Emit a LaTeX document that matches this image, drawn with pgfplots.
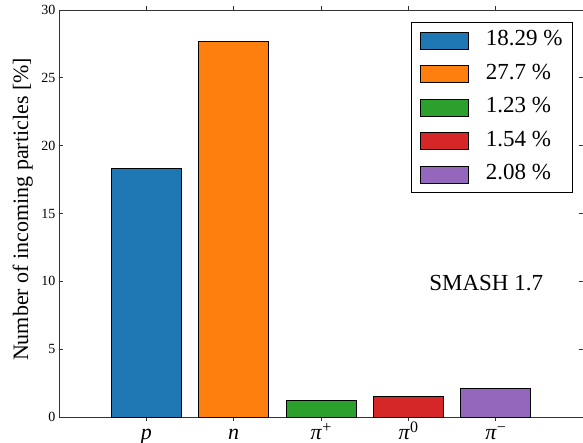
\documentclass[border=0pt]{standalone}
\usepackage{fontspec}
\setmainfont{Liberation Serif}
\usepackage{pgfplots}
\pgfplotsset{compat=1.18}
\definecolor{c1}{HTML}{1F77B4}
\definecolor{c2}{HTML}{FF7F0E}
\definecolor{c3}{HTML}{2CA02C}
\definecolor{c4}{HTML}{D62728}
\definecolor{c5}{HTML}{9467BD}
\begin{document}
\begin{tikzpicture}
\begin{axis}[
  at={(0,0)}, anchor=south west,
  scale only axis, width=524pt, height=407pt,
  xmin=-1, xmax=5, ymin=0, ymax=30,
  ytick={0,5,10,15,20,25,30},
  xtick={0,1,2,3,4},
  xticklabels={\textit{p},\textit{n},\textit{π}\raisebox{7pt}{\fontsize{16}{16}\selectfont +},\textit{π}\raisebox{7pt}{\fontsize{16}{16}\selectfont 0},\textit{π}\raisebox{7pt}{\fontsize{16}{16}\selectfont −}},
  x tick label style={font=\fontsize{22}{24}\selectfont, anchor=north, inner sep=0pt, text height=14pt, text depth=5pt, yshift=-4pt},
  y tick label style={font=\fontsize{14}{16}\selectfont},
  /pgf/number format/assume math mode=true,
  tick align=inside, tick pos=both, major tick length=4pt,
  axis line style={black!80, line width=0.9pt},
  every tick/.style={black!80, line width=0.8pt},
  every axis y label/.style={at={(axis description cs:-0.069,0.51)}, rotate=90, anchor=center, font=\fontsize{22}{24}\selectfont},
  ylabel={Number of incoming particles [\%]},
  ybar, bar shift=0pt, bar width=0.8,
  legend image code/.code={\path (-5pt,0pt); \draw[#1, line width=0.8pt] (0pt,-8.5pt) rectangle (48pt,8.5pt);},
  legend cell align=left,
  legend style={at={(axis description cs:0.981,0.9705)}, anchor=north east,
    font=\fontsize{23}{26}\selectfont, draw=black, line width=0.8pt,
    row sep=8.5pt, column sep=11pt, inner xsep=4pt, inner ysep=5.5pt,
    nodes={inner xsep=6pt, inner ysep=2pt, text height=16pt, text depth=5pt}},
]
\addplot[fill=c1, draw=black, line width=0.8pt] coordinates {(0,18.29)};
\addlegendentry{18.29 \%}
\addplot[fill=c2, draw=black, line width=0.8pt] coordinates {(1,27.7)};
\addlegendentry{27.7 \%}
\addplot[fill=c3, draw=black, line width=0.8pt] coordinates {(2,1.23)};
\addlegendentry{1.23 \%}
\addplot[fill=c4, draw=black, line width=0.8pt] coordinates {(3,1.54)};
\addlegendentry{1.54 \%}
\addplot[fill=c5, draw=black, line width=0.8pt] coordinates {(4,2.08)};
\addlegendentry{2.08 \%}
\node[anchor=west, font=\fontsize{23}{24}\selectfont] at (axis cs:3.2,9.9) {SMASH 1.7};
\end{axis}
\pgfresetboundingbox
\path (-59pt,-25pt) rectangle (524pt,417pt);
\end{tikzpicture}
\end{document}
